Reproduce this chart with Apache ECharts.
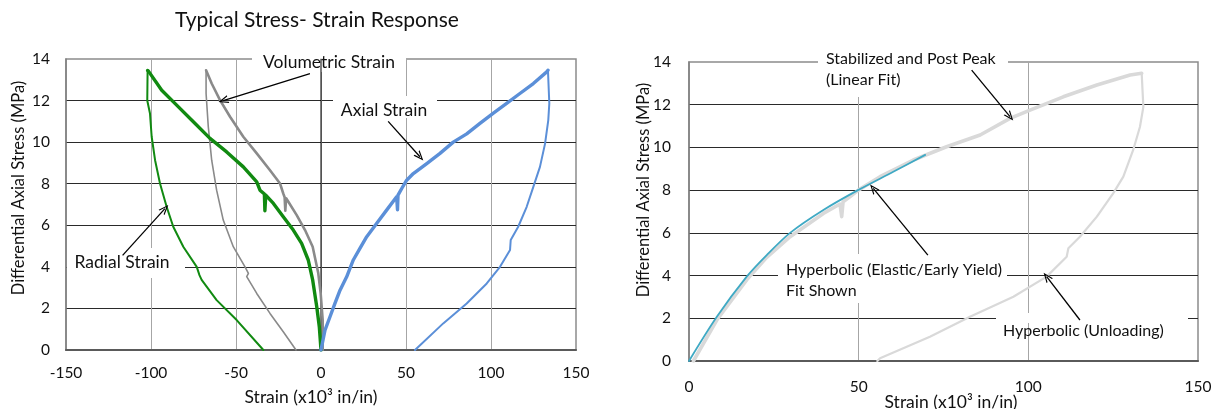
<!DOCTYPE html>
<html>
<head>
<meta charset="utf-8">
<script src="https://cdn.jsdelivr.net/npm/echarts@6/dist/echarts.min.js"></script>
<style>
  html, body { margin: 0; padding: 0; background: #fff; }
  #chart { width: 1217px; height: 409px; }
</style>
</head>
<body>
<div id="chart"></div>
<script>
// Left panel: strain (x10^3 in/in) vs differential axial stress (MPa)
const radialLoading = [[0,0],[-1,1.12],[-2.5,2.08],[-4.9,3.37],[-7.5,4.33],[-11.4,5.13],[-16.3,5.77],[-22.2,6.41],[-28,7.05],[-32.5,7.45],[-33,6.7],[-33.3,7.5],[-35.9,7.69],[-37.8,8.09],[-45.7,8.81],[-55.5,9.53],[-65.3,10.18],[-75.1,10.98],[-84.9,11.78],[-93.7,12.5],[-101.6,13.43],[-102,13.45]];
const radialUnloading = [[-102,13.45],[-102.2,12.0],[-100.6,11.38],[-99.6,10.26],[-97.6,9.13],[-94.7,8.01],[-90.8,6.89],[-86.9,5.93],[-81,4.97],[-73.1,4.0],[-71.5,3.6],[-70.2,3.37],[-61.4,2.4],[-49.6,1.44],[-33.9,0]];
const volumetricLoading = [[1,0],[1,1.44],[-0.2,2.72],[-1.6,3.69],[-4.9,4.97],[-9.4,5.77],[-14.3,6.49],[-19.2,7.13],[-20.5,7.3],[-21,6.7],[-21.4,7.35],[-22.2,7.53],[-24.1,8.01],[-30,8.65],[-37.8,9.46],[-45.7,10.26],[-53.5,11.22],[-59.4,12.02],[-64.3,12.82],[-67.6,13.46]];
const volumetricUnloading = [[-67.6,13.46],[-67.6,12.34],[-66.3,10.74],[-64.3,9.13],[-61.4,7.69],[-57.5,6.25],[-51.6,4.97],[-44.7,4.0],[-42.7,3.69],[-43.7,3.53],[-37.8,2.72],[-30,1.76],[-22.2,0.88],[-14.7,0]];
const axialLoading = [[0,0],[2.35,0.96],[5.3,1.6],[8.2,2.24],[11.2,2.88],[15.1,3.52],[19,4.33],[22.9,4.89],[26.9,5.45],[32.7,6.09],[38.6,6.73],[44.5,7.37],[45,6.75],[45.3,7.45],[47.5,7.77],[50.4,8.17],[54.3,8.49],[62.2,8.97],[70,9.46],[77.8,10],[85.7,10.4],[93.5,10.9],[101.4,11.4],[109.2,11.86],[117,12.34],[124.9,12.82],[132.8,13.38],[133.5,13.46]];
const axialUnloading = [[133.5,13.46],[134.3,11.86],[133.7,11.06],[131.8,9.93],[128.8,8.81],[124.9,7.85],[121,6.89],[116,5.93],[111.6,5.29],[111.2,4.81],[105.3,4.0],[97.5,3.2],[85.7,2.24],[71.9,1.28],[55.3,0]];

// Right panel: measured axial curve with the hyperbolic fit
const measuredLoading = [[1.3,0],[8.2,1.92],[17,3.8],[22.9,4.85],[29.8,5.82],[39.6,6.91],[44.5,7.35],[45,6.76],[45.4,7.45],[47.5,7.7],[49.9,8.0],[56.3,8.63],[66.1,9.41],[75.9,10.03],[85.8,10.58],[94.6,11.36],[100.5,11.75],[110.3,12.37],[120.2,12.92],[130,13.39],[133.4,13.47]];
const measuredUnloading = [[133.4,13.47],[133.9,11.9],[132.9,10.97],[130.9,9.88],[128,8.63],[125,7.85],[120.2,6.76],[115.2,5.82],[111.8,5.28],[111.3,4.88],[105.4,3.95],[95.6,3.01],[82.8,2.07],[71,1.14],[56.3,0.13],[55.5,0]];
const hyperbolicFit = [[0,0],[8.2,2.07],[17,3.95],[22.9,4.96],[29.8,6.0],[39.6,7.07],[49.8,8.0],[60.2,8.86],[69.6,9.65]];

// Annotation arrows: [tail, head] in data units
const leftArrows = [
  [[-6.5,13.3],[-57.5,12.0]],
  [[39.5,11.0],[58.2,9.3]],
  [[-116.7,4.55],[-91.8,6.8]]
];
const rightArrows = [
  [[83.3,13.62],[94.6,11.44]],
  [[70.4,4.96],[54.3,8.08]],
  [[115.2,1.92],[105.4,3.95]]
];

const FONT = 'Lato, "Open Sans", sans-serif';
const ARROW = 'path://M5,0 L10,11 L8.4,11 L5,3.2 L1.6,11 L0,11 Z';

function arrowMarks(list) {
  return {
    silent: true,
    symbol: ['none', ARROW],
    symbolSize: [8, 10],
    lineStyle: { color: '#000', width: 1.3, type: 'solid' },
    label: { show: false },
    emphasis: { disabled: true },
    animation: false,
    data: list.map(a => [{ coord: a[0] }, { coord: a[1] }])
  };
}

function xAxisCfg(grid, min, max, margin) {
  return {
    type: 'value', gridIndex: grid, min: min, max: max, interval: 50,
    axisLine: { show: true, onZero: false, lineStyle: { color: '#5a5a5a', width: 2 } },
    axisTick: { show: false },
    axisLabel: { color: '#111', fontSize: 15.5, fontFamily: FONT, margin: margin },
    splitLine: { show: true, showMinLine: false, showMaxLine: false, lineStyle: { color: '#a6a6a6', width: 1 } }
  };
}
function yAxisCfg(grid, margin) {
  return {
    type: 'value', gridIndex: grid, min: 0, max: 14, interval: 2,
    axisLine: { show: true, onZero: false, lineStyle: { color: '#808080', width: 1.5 } },
    axisTick: { show: false },
    axisLabel: { color: '#111', fontSize: 15.5, fontFamily: FONT, margin: margin },
    splitLine: { show: true, showMinLine: false, showMaxLine: false, lineStyle: { color: '#2a2a2a', width: 1 } }
  };
}
function curve(data, color, width, xi, z) {
  return {
    type: 'line', data: data, xAxisIndex: xi, yAxisIndex: xi,
    showSymbol: false, symbol: 'none', smooth: false, z: z || 2,
    lineStyle: { color: color, width: width, join: 'round', cap: 'round' },
    emphasis: { disabled: true }, silent: true, animation: false
  };
}
function box(x, y, w, h) {
  return { type: 'rect', z: 1, silent: true, shape: { x: x, y: y, width: w, height: h }, style: { fill: '#fff' } };
}
function label(text, x, y, align, size, rot) {
  return {
    type: 'text', z: 10, silent: true, x: x, y: y, rotation: rot || 0,
    style: { text: text, fill: '#111', font: size + 'px ' + FONT, textAlign: align || 'left', textVerticalAlign: 'middle', verticalAlign: 'middle' }
  };
}

const chart = echarts.init(document.getElementById('chart'), null, { renderer: 'canvas' });
chart.setOption({
  backgroundColor: '#fff',
  animation: false,
  grid: [
    { left: 66, top: 59, width: 510, height: 291, show: true, borderColor: '#8c8c8c', borderWidth: 1.5, containLabel: false },
    { left: 689, top: 62, width: 509, height: 299, show: true, borderColor: '#8c8c8c', borderWidth: 1.5, containLabel: false }
  ],
  xAxis: [xAxisCfg(0, -150, 150, 15), xAxisCfg(1, 0, 150, 18)],
  yAxis: [yAxisCfg(0, 16), yAxisCfg(1, 18)],
  series: [
    // zero-strain reference line
    curve([[0, 0], [0, 14]], '#000', 1, 0, 0),
    curve(volumetricUnloading, '#8a8a8a', 1.6, 0),
    curve(volumetricLoading, '#8a8a8a', 2.6, 0),
    curve(radialUnloading, '#118a11', 2, 0),
    curve(radialLoading, '#118a11', 3.4, 0),
    curve(axialUnloading, '#5b8fd8', 2, 0),
    Object.assign(curve(axialLoading, '#5b8fd8', 3.4, 0), { markLine: arrowMarks(leftArrows) }),
    curve(measuredUnloading, '#d9d9d9', 2.2, 1),
    curve(measuredLoading, '#d9d9d9', 3.6, 1),
    Object.assign(curve(hyperbolicFit, '#3fa9c4', 1.8, 1, 3), { smooth: 0.3, markLine: arrowMarks(rightArrows) })
  ],
  graphic: [
    // label backgrounds that interrupt the grid lines
    box(252, 50, 154, 22),
    box(333, 96, 104, 22),
    box(67, 248, 118, 30),
    box(818, 48, 190, 49),
    box(778, 254, 229, 49),
    box(996, 313, 192, 10),
    // chart title and axis titles
    label('Typical Stress- Strain Response', 317, 20, 'center', 21),
    label('Strain (x10\u00b3 in/in)', 311, 397, 'center', 17.5),
    label('Strain (x10\u00b3 in/in)', 951, 402, 'center', 17.5),
    label('Differential Axial Stress (MPa)', 19, 188, 'center', 16.5, Math.PI / 2),
    label('Differential Axial Stress (MPa)', 644, 190, 'center', 16.5, Math.PI / 2),
    // curve annotations
    label('Volumetric Strain', 329, 62, 'center', 17.5),
    label('Axial Strain', 384, 110, 'center', 17.5),
    label('Radial Strain', 122, 262, 'center', 17.5),
    label('Stabilized and Post Peak', 826, 59, 'left', 16),
    label('(Linear Fit)', 826, 80, 'left', 16),
    label('Hyperbolic (Elastic/Early Yield)', 786, 270, 'left', 16),
    label('Fit Shown', 786, 291, 'left', 16),
    label('Hyperbolic (Unloading)', 1003, 331, 'left', 16)
  ]
});
</script>
</body>
</html>
